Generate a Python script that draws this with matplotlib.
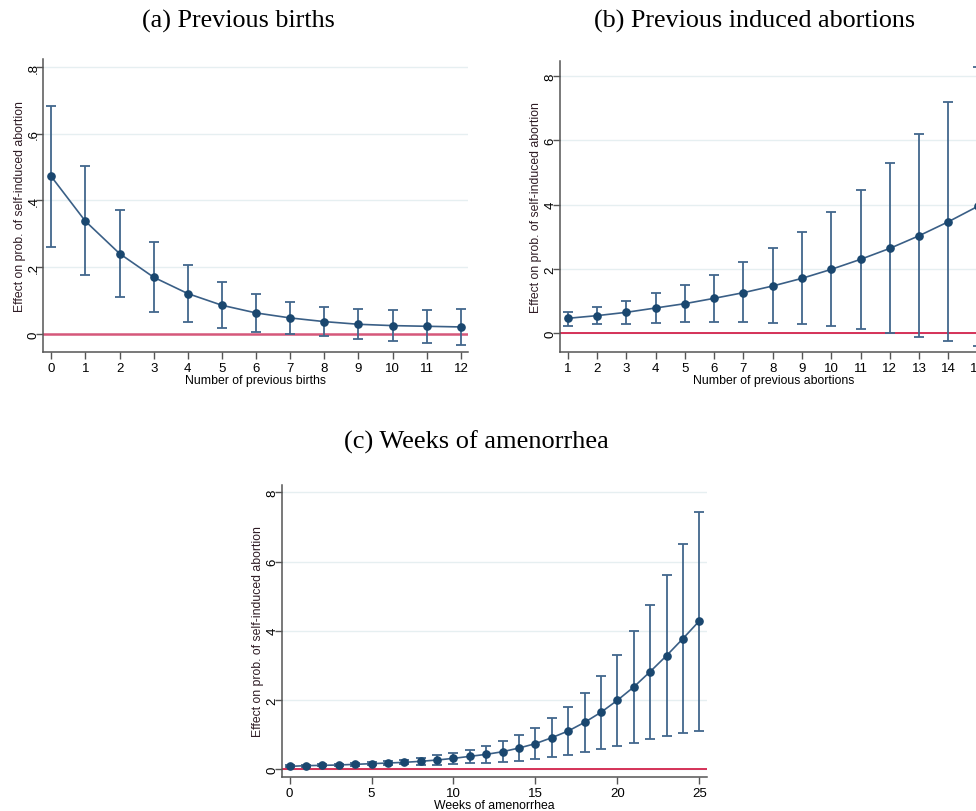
import numpy as np
import matplotlib
matplotlib.use('Agg')
import matplotlib.pyplot as plt

# (a) previous births
births_x = list(range(0, 13))
births_y = [0.472, 0.338, 0.241, 0.170, 0.121, 0.086, 0.063, 0.048, 0.037, 0.029, 0.025, 0.023, 0.021]
births_lo = [0.262, 0.176, 0.111, 0.065, 0.035, 0.017, 0.006, -0.001, -0.007, -0.014, -0.021, -0.027, -0.032]
births_hi = [0.683, 0.502, 0.371, 0.277, 0.207, 0.156, 0.120, 0.096, 0.082, 0.075, 0.072, 0.072, 0.075]

# (b) previous induced abortions
abort_x = list(range(1, 16))
abort_y = [0.466, 0.549, 0.652, 0.787, 0.921, 1.087, 1.263, 1.470, 1.708, 1.987, 2.298, 2.639, 3.032, 3.467, 3.943]
abort_lo = [0.238, 0.279, 0.290, 0.321, 0.342, 0.342, 0.342, 0.321, 0.290, 0.228, 0.135, 0.021, -0.103, -0.248, -0.40]
abort_hi = [0.673, 0.828, 1.014, 1.242, 1.511, 1.821, 2.204, 2.639, 3.157, 3.757, 4.461, 5.278, 6.189, 7.193, 8.26]

# (c) weeks of amenorrhea
weeks_x = list(range(0, 26))
weeks_y = [0.077, 0.096, 0.106, 0.116, 0.135, 0.154, 0.173, 0.193, 0.222, 0.260, 0.308, 0.366, 0.424, 0.500,
           0.607, 0.733, 0.906, 1.099, 1.349, 1.639, 1.986, 2.371, 2.814, 3.277, 3.769, 4.280]
weeks_lo = [0.052, 0.068, 0.076, 0.083, 0.098, 0.112, 0.123, 0.133, 0.110, 0.125, 0.145, 0.164, 0.183, 0.200,
            0.231, 0.280, 0.337, 0.405, 0.482, 0.569, 0.675, 0.761, 0.867, 0.954, 1.031, 1.099]
weeks_hi = [0.102, 0.124, 0.136, 0.149, 0.172, 0.196, 0.223, 0.253, 0.330, 0.395, 0.470, 0.560, 0.675, 0.800,
            0.973, 1.195, 1.465, 1.793, 2.207, 2.699, 3.306, 3.981, 4.752, 5.600, 6.506, 7.441]

plt.rcParams['font.family'] = ['Liberation Sans', 'DejaVu Sans']

navy = '#1a476f'
bar_col = '#42678c'
ylab = 'Effect on prob. of self-induced abortion'

fig = plt.figure(figsize=(9.76, 8.12), dpi=100)


def panel(rect, x, y, lo, hi, xlim, ylim, yticks, yticklabels, xticks, xlabel, ylab_x, title, title_xy,
          title_size, zero_col, zero_lw):
    ax = fig.add_axes(rect)
    y = np.array(y)
    err = [y - np.array(lo), np.array(hi) - y]
    ax.axhline(0, color=zero_col, lw=zero_lw, zorder=1)
    ax.errorbar(x, y, yerr=err, fmt='none', ecolor=bar_col, elinewidth=1.3,
                capsize=3.5, capthick=1.3, zorder=2)
    ax.plot(x, y, '-', color='#3a5f86', lw=1.2, zorder=3)
    ax.plot(x, y, 'o', color=navy, ms=5.2, zorder=4)
    ax.set_xlim(*xlim)
    ax.set_ylim(*ylim)
    ax.set_yticks(yticks)
    ax.set_yticklabels(yticklabels, rotation=90, va='center', ha='center')
    ax.set_xticks(xticks)
    ax.yaxis.grid(True, color='#e6eff1', lw=1)
    ax.set_axisbelow(True)
    for s in ['top', 'right']:
        ax.spines[s].set_visible(False)
    for s in ['left', 'bottom']:
        ax.spines[s].set_color('#555555')
        ax.spines[s].set_linewidth(1.1)
    ax.tick_params(length=5, width=1, color='#555555', labelsize=9.5, pad=2)
    ax.tick_params(axis='y', pad=2)
    ax.set_xlabel(xlabel, fontsize=8.8, labelpad=0)
    ax.set_ylabel(ylab, fontsize=8.8, color='#2e1b24', va='center')
    ax.yaxis.set_label_coords(ylab_x, 0.5)
    fig.text(title_xy[0] / 976, 1 - title_xy[1] / 812, title, ha='center', va='center',
             fontsize=title_size, family='Liberation Serif')
    return ax


panel([0.0441, 0.5653, 0.4355, 0.3608], births_x, births_y, births_lo, births_hi,
      (-0.24, 12.21), (-0.054, 0.824), [0, 0.2, 0.4, 0.6, 0.8], ['0', '.2', '.4', '.6', '.8'],
      births_x, 'Number of previous births', -0.055, '(a) Previous births', (238, 21), 18.8,
      '#d6587a', 1.8)

panel([0.5738, 0.5649, 0.4369, 0.3591], abort_x, abort_y, abort_lo, abort_hi,
      (0.737, 15.3), (-0.59, 8.47), [0, 2, 4, 6, 8], ['0', '2', '4', '6', '8'],
      abort_x, 'Number of previous abortions', -0.057, '(b) Previous induced abortions', (755, 21),
      18.8, '#d3224b', 1.3)

panel([0.2892, 0.0415, 0.4355, 0.3603], weeks_x, weeks_y, weeks_lo, weeks_hi,
      (-0.45, 25.49), (-0.24, 8.22), [0, 2, 4, 6, 8], ['0', '2', '4', '6', '8'],
      [0, 5, 10, 15, 20, 25], 'Weeks of amenorrhea', -0.058, '(c) Weeks of amenorrhea', (476, 442), 19,
      '#d3224b', 1.3)

fig.savefig('out.png', dpi=100)
